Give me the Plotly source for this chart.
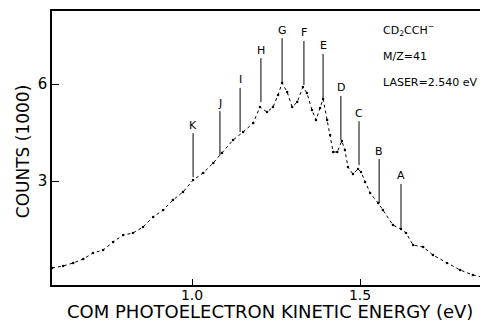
import plotly.graph_objects as go

# Spectrum (centre-of-mass photoelectron kinetic energy in eV, counts in thousands)
energy = [0.583, 0.616, 0.646, 0.676, 0.705, 0.735, 0.765, 0.795, 0.824, 0.854,
          0.884, 0.914, 0.943, 0.973, 1.003, 1.033, 1.063, 1.089, 1.122, 1.152,
          1.182, 1.202, 1.223, 1.241, 1.256, 1.268, 1.283, 1.298, 1.313, 1.330,
          1.342, 1.357, 1.369, 1.381, 1.390, 1.402, 1.411, 1.420, 1.432, 1.446,
          1.455, 1.464, 1.479, 1.494, 1.503, 1.515, 1.530, 1.554, 1.568, 1.598,
          1.622, 1.637, 1.658, 1.688, 1.717, 1.759, 1.798, 1.836, 1.878]
counts = [0.309, 0.371, 0.464, 0.588, 0.773, 0.866, 1.113, 1.330, 1.392, 1.577,
          1.887, 2.103, 2.412, 2.660, 3.031, 3.247, 3.557, 3.866, 4.268, 4.515,
          4.794, 5.289, 5.134, 5.289, 5.660, 6.031, 5.753, 5.289, 5.443, 5.907,
          5.722, 5.196, 4.887, 5.258, 5.536, 4.887, 4.423, 3.897, 3.897, 4.237,
          3.959, 3.433, 3.216, 3.371, 3.278, 2.969, 2.629, 2.320, 2.103, 1.639,
          1.515, 1.392, 1.021, 0.959, 0.711, 0.464, 0.247, 0.093, 0.0]

# Peak assignments
peak_labels = ["K", "J", "I", "H", "G", "F", "E", "D", "C", "B", "A"]
peak_energy = [1.003, 1.083, 1.143, 1.205, 1.268, 1.333, 1.390, 1.443, 1.497, 1.557, 1.622]
peak_counts = [3.12, 3.80, 4.52, 5.44, 6.06, 5.97, 5.57, 4.27, 3.49, 2.32, 1.55]

x_ticks = [1.0, 1.5]
x_tick_text = ["1.0", "1.5"]
y_ticks = [3, 6]
y_tick_text = ["3", "6"]

x_title = "COM PHOTOELECTRON KINETIC ENERGY (eV)"
y_title = "COUNTS (1000)"
info_lines = ["CD<sub>2</sub>CCH<sup>−</sup>", "M/Z=41", "LASER=2.540 eV"]

FONT = "DejaVu Sans"

fig = go.Figure()
fig.add_trace(go.Scatter(
    x=energy, y=counts, mode="lines+markers",
    line=dict(color="black", width=1, dash="dot"),
    marker=dict(color="black", size=2.5),
    showlegend=False, hoverinfo="skip"))

for lab, ex, cy in zip(peak_labels, peak_energy, peak_counts):
    fig.add_annotation(
        x=ex, y=cy, text=lab, showarrow=True, arrowhead=0, arrowwidth=1,
        arrowcolor="black", ax=0, ay=-52,
        font=dict(family=FONT, size=11, color="black"))

for i, txt in enumerate(info_lines):
    fig.add_annotation(
        xref="paper", yref="paper", x=0.755, y=0.93 - i * 0.095,
        xanchor="left", yanchor="middle", text=txt, showarrow=False,
        font=dict(family=FONT, size=11, color="black"))

fig.add_annotation(
    xref="paper", yref="paper", x=0.5, y=-0.095, xanchor="center", yanchor="middle",
    text=x_title, showarrow=False, font=dict(family=FONT, size=18, color="black"))
fig.add_annotation(
    xref="paper", yref="paper", x=-0.066, y=0.489, xanchor="center", yanchor="middle",
    text=y_title, textangle=-90, showarrow=False,
    font=dict(family=FONT, size=17, color="black"))

# page body has an 8px margin, so the figure is sized/offset to compensate
fig.update_layout(
    width=480, height=319,
    margin=dict(l=44, r=0, t=3, b=42, autoexpand=False),
    paper_bgcolor="white", plot_bgcolor="white",
    font=dict(family=FONT, color="black"),
    xaxis=dict(range=[0.583, 1.881], showgrid=False, zeroline=False, automargin=False,
               showline=True, linecolor="black", linewidth=1.5, mirror=True,
               ticks="inside", ticklen=6, tickcolor="black",
               tickvals=x_ticks, ticktext=x_tick_text, ticklabelstandoff=-4,
               tickfont=dict(family=FONT, size=14)),
    yaxis=dict(range=[-0.216, 8.258], showgrid=False, zeroline=False, automargin=False,
               showline=True, linecolor="black", linewidth=1.5, mirror=False,
               ticks="inside", ticklen=7, tickcolor="black",
               tickvals=y_ticks, ticktext=y_tick_text,
               tickfont=dict(family=FONT, size=15)),
)

fig.write_html("out.html")
